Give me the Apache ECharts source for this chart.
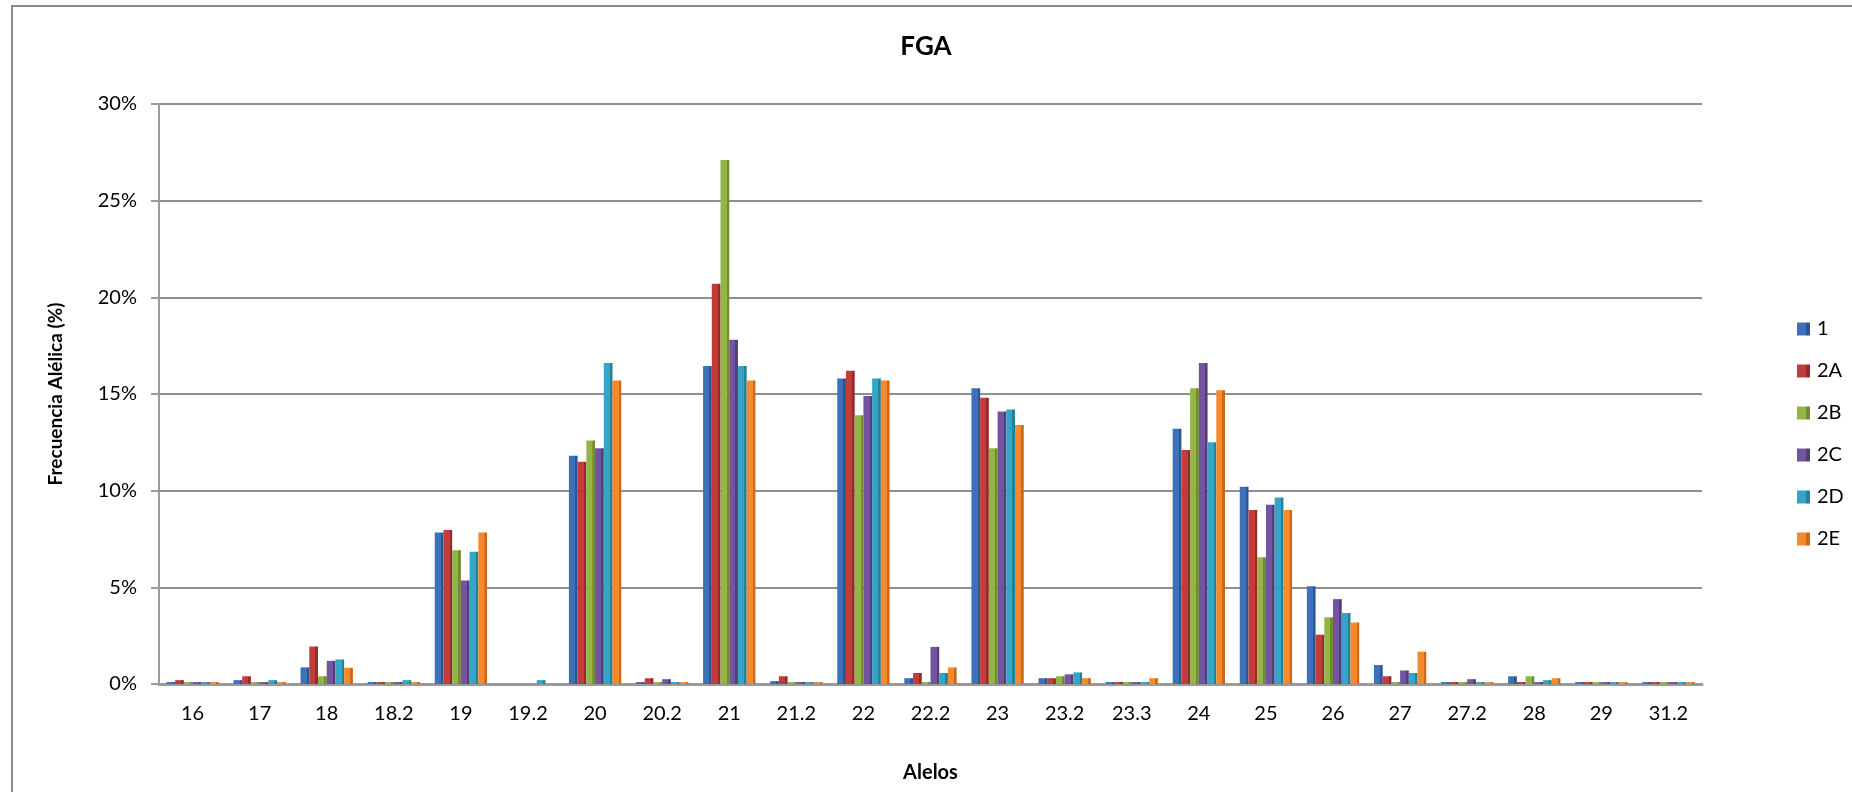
<!DOCTYPE html>
<html>
<head>
<meta charset="utf-8">
<script src="https://cdn.jsdelivr.net/npm/echarts@6/dist/echarts.min.js"></script>
<style>
  html, body { margin: 0; padding: 0; background: #fff; }
  #chart { width: 1852px; height: 792px; }
</style>
</head>
<body>
<div id="chart"></div>
<script>
// Categories (alleles)
const categories = ['16','17','18','18.2','19','19.2','20','20.2','21','21.2','22','22.2','23','23.2','23.3','24','25','26','27','27.2','28','29','31.2'];

// Series values (allele frequency, %)
const s1  = [0.1, 0.2, 0.86, 0.1, 7.84, 0, 11.8, 0.1, 16.45, 0.15, 15.8, 0.3, 15.3, 0.3, 0.1, 13.2, 10.2, 5.06, 0.98, 0.1, 0.4, 0.1, 0.1];
const s2A = [0.2, 0.4, 1.94, 0.1, 7.96, 0, 11.5, 0.3, 20.7, 0.4, 16.2, 0.57, 14.8, 0.3, 0.1, 12.1, 9.0, 2.55, 0.4, 0.1, 0.1, 0.1, 0.1];
const s2B = [0.1, 0.1, 0.4, 0.1, 6.92, 0, 12.6, 0.1, 27.1, 0.1, 13.9, 0.1, 12.2, 0.4, 0.1, 15.3, 6.55, 3.45, 0.1, 0.1, 0.4, 0.1, 0.1];
const s2C = [0.1, 0.1, 1.2, 0.1, 5.35, 0, 12.2, 0.25, 17.8, 0.1, 14.9, 1.92, 14.1, 0.5, 0.1, 16.6, 9.27, 4.39, 0.7, 0.25, 0.1, 0.1, 0.1];
const s2D = [0.1, 0.2, 1.27, 0.2, 6.84, 0.2, 16.6, 0.1, 16.45, 0.1, 15.8, 0.57, 14.2, 0.6, 0.1, 12.5, 9.65, 3.67, 0.57, 0.1, 0.2, 0.1, 0.1];
const s2E = [0.1, 0.1, 0.84, 0.1, 7.84, 0, 15.7, 0.1, 15.7, 0.1, 15.7, 0.86, 13.4, 0.3, 0.3, 15.2, 9.0, 3.18, 1.67, 0.1, 0.3, 0.1, 0.1];

const seriesNames = ['1', '2A', '2B', '2C', '2D', '2E'];
const seriesData = [s1, s2A, s2B, s2C, s2D, s2E];

// y-axis ticks
const yMin = 0, yMax = 30, yStep = 5;

const palette = [
  ['#3d72b8', '#2b5693'],
  ['#c23c3a', '#952b2a'],
  ['#93b545', '#6f8c30'],
  ['#7354a0', '#553d78'],
  ['#33a5c6', '#23819c'],
  ['#f58a2c', '#cc671b']
];

const FONT = 'Lato, "Open Sans", sans-serif';

function grad(c) {
  return new echarts.graphic.LinearGradient(0, 0, 1, 0, [
    { offset: 0, color: c[0] },
    { offset: 0.7, color: c[0] },
    { offset: 0.71, color: c[1] },
    { offset: 1, color: c[1] }
  ]);
}

const chart = echarts.init(document.getElementById('chart'));
chart.setOption({
  backgroundColor: '#ffffff',
  animation: false,
  textStyle: { fontFamily: FONT },
  graphic: [{
    type: 'rect',
    shape: { x: 12, y: 6, width: 1900, height: 900 },
    style: { fill: 'none', stroke: '#8a8a8a', lineWidth: 2 },
    silent: true,
    z: -10
  }],
  title: {
    text: 'FGA',
    left: 'center',
    top: 29,
    textStyle: { fontFamily: FONT, fontSize: 26, fontWeight: 'bold', color: '#000' }
  },
  legend: {
    orient: 'vertical',
    left: 1792,
    top: 314,
    itemWidth: 13,
    itemHeight: 13,
    itemGap: 22,
    icon: 'rect',
    data: seriesNames,
    textStyle: { fontFamily: FONT, fontSize: 20, color: '#000', padding: [0, 0, 0, 2] }
  },
  grid: { left: 159, right: 150, top: 104, bottom: 108, containLabel: false },
  xAxis: {
    type: 'category',
    data: categories,
    name: 'Alelos',
    nameLocation: 'middle',
    nameGap: 79,
    nameTextStyle: { fontFamily: FONT, fontSize: 20, fontWeight: 'bold', color: '#000' },
    axisLine: { lineStyle: { color: '#9a9a9a', width: 3 } },
    axisTick: { show: false },
    axisLabel: { margin: 20, fontFamily: FONT, fontSize: 20, color: '#000' },
    splitLine: { show: false }
  },
  yAxis: {
    type: 'value',
    min: yMin,
    max: yMax,
    interval: yStep,
    name: 'Frecuencia Alélica (%)',
    nameLocation: 'middle',
    nameGap: 94,
    nameTextStyle: { fontFamily: FONT, fontSize: 19, fontWeight: 'bold', color: '#000' },
    axisLine: { show: true, lineStyle: { color: '#9a9a9a', width: 2 } },
    axisTick: { show: true, length: 8, lineStyle: { color: '#9a9a9a', width: 2 } },
    axisLabel: { margin: 22, fontFamily: FONT, fontSize: 20, color: '#000', formatter: '{value}%' },
    splitLine: { show: true, lineStyle: { color: '#8f8f8f', width: 2 } }
  },
  series: seriesNames.map((n, i) => ({
    name: n,
    type: 'bar',
    data: seriesData[i],
    barGap: '0%',
    barCategoryGap: '22%',
    itemStyle: { color: grad(palette[i]) }
  }))
});
</script>
</body>
</html>
